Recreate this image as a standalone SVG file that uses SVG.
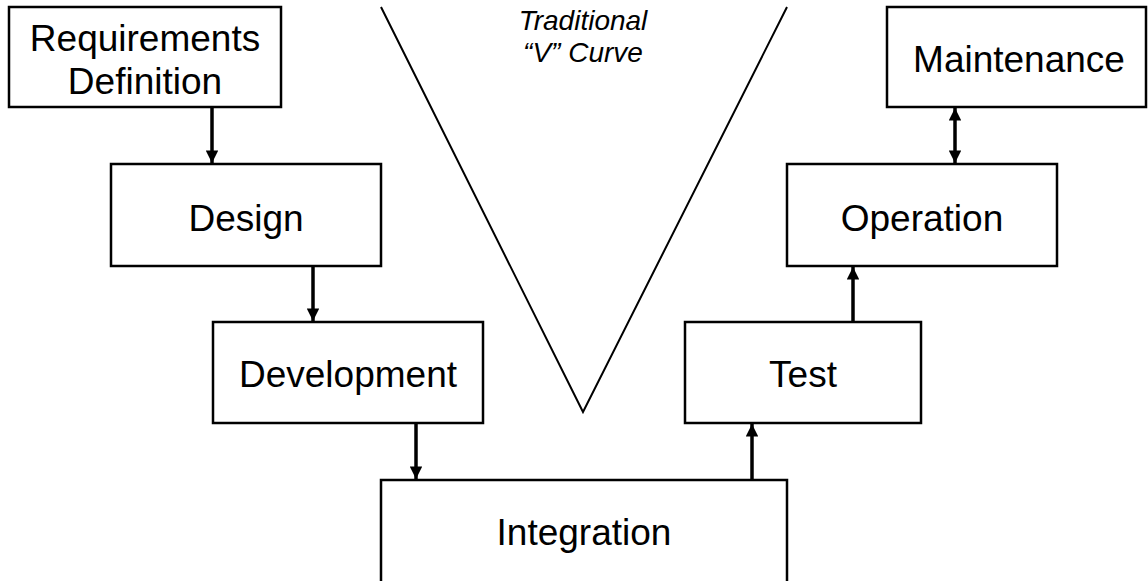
<svg xmlns="http://www.w3.org/2000/svg" width="1148" height="581" viewBox="0 0 1148 581">
<style>
.box{fill:#fff;stroke:#000;stroke-width:2.5}
.lbl{font-family:"Liberation Sans",Arial,sans-serif;font-size:37px;fill:#000;text-anchor:middle}
.it{font-family:"Liberation Sans",Arial,sans-serif;font-size:28px;font-style:italic;fill:#000;text-anchor:middle}
.con{stroke:#000;stroke-width:3.5;fill:none}
.v{stroke:#000;stroke-width:2;fill:none}
</style>
<defs>
<marker id="ah" viewBox="0 0 10 10" refX="10" refY="5" markerWidth="3.6" markerHeight="3.6" markerUnits="strokeWidth" orient="auto-start-reverse">
<path d="M0,0 L10,5 L0,10 z" fill="#000"/>
</marker>
</defs>
<rect width="1148" height="581" fill="#fff"/>
<g id="vcurve">
<polyline class="v" points="381,7 583,412 787,7"/>
<text class="it" x="583" y="30">Traditional</text>
<text class="it" x="583" y="62">“V” Curve</text>
</g>
<g id="requirements"><rect class="box" x="9" y="7" width="272" height="100"/><text class="lbl" x="145" y="51">Requirements</text><text class="lbl" x="145" y="94">Definition</text></g>
<g id="design"><rect class="box" x="111" y="164" width="270" height="102"/><text class="lbl" x="246" y="231">Design</text></g>
<g id="development"><rect class="box" x="213" y="322" width="270" height="101"/><text class="lbl" x="348" y="387">Development</text></g>
<g id="integration"><rect class="box" x="381" y="480" width="406" height="120"/><text class="lbl" x="584" y="545">Integration</text></g>
<g id="test"><rect class="box" x="685" y="322" width="236" height="101"/><text class="lbl" x="803" y="387">Test</text></g>
<g id="operation"><rect class="box" x="787" y="164" width="270" height="102"/><text class="lbl" x="922" y="231">Operation</text></g>
<g id="maintenance"><rect class="box" x="887" y="7" width="259" height="100"/><text class="lbl" x="1019" y="72">Maintenance</text></g>
<g id="connectors">
<line class="con" x1="212" y1="107" x2="212" y2="163" marker-end="url(#ah)"/>
<line class="con" x1="313" y1="266" x2="313" y2="321" marker-end="url(#ah)"/>
<line class="con" x1="416" y1="423" x2="416" y2="479" marker-end="url(#ah)"/>
<line class="con" x1="752" y1="480" x2="752" y2="424" marker-end="url(#ah)"/>
<line class="con" x1="853" y1="322" x2="853" y2="267" marker-end="url(#ah)"/>
<line class="con" x1="955" y1="108" x2="955" y2="163" marker-start="url(#ah)" marker-end="url(#ah)"/>
</g>
</svg>
